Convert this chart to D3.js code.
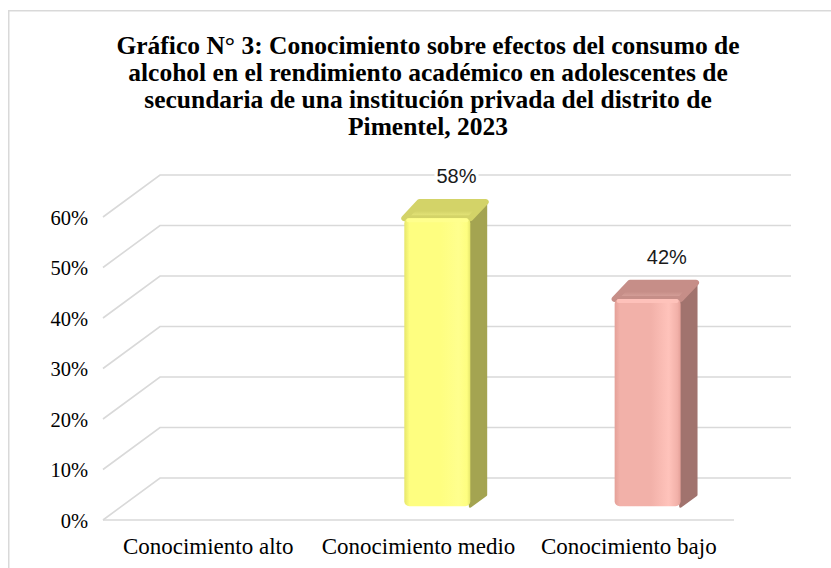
<!DOCTYPE html>
<html>
<head>
<meta charset="utf-8">
<script src="https://cdn.jsdelivr.net/npm/d3@7/dist/d3.min.js"></script>
<style>
  html, body { margin: 0; padding: 0; background: #fff; }
  svg { display: block; }
  svg text.serif-t { font-family: "Liberation Serif", "DejaVu Serif", serif !important; }
  svg text.sans-t { font-family: "Liberation Sans", "DejaVu Sans", sans-serif !important; }
</style>
</head>
<body>
<script>
// ---- data ----
const titleLines = [
  "Gráfico N° 3: Conocimiento sobre efectos del consumo de",
  "alcohol en el rendimiento académico en adolescentes de",
  "secundaria de una institución privada del distrito de",
  "Pimentel, 2023"
];
const categories = ["Conocimiento alto", "Conocimiento medio", "Conocimiento bajo"];
const values = [0, 0.58, 0.42];
const valueLabels = ["0%", "58%", "42%"];
const tickValues = [0, 0.1, 0.2, 0.3, 0.4, 0.5, 0.6];
const tickLabels = ["0%", "10%", "20%", "30%", "40%", "50%", "60%"];
const barColors = [
  { front: "#f5f57a", light: "#ffff8a", edge: "#e4e466", side: "#a5a552", top: "#d4d468", topLight: "#e6e67a" },
  { front: "#fefe80", light: "#ffff8e", edge: "#e6e66a", side: "#a4a451", top: "#d3d368", topLight: "#ecec80" },
  { front: "#f2b1a9", light: "#ffc3bb", edge: "#e4a098", side: "#a1736e", top: "#c68e88", topLight: "#dda8a1" }
];

const SERIF = '"Liberation Serif"';
const SANS = '"Liberation Sans"';

// ---- layout ----
const W = 831, H = 568;
const DX = 57, DY = 42;         // depth projection offset
const tFront = 0.33, tBack = 0.6;
const barW = 66;

const svg = d3.select("body").append("svg").attr("width", W).attr("height", H);
const defs = svg.append("defs");

// frame
svg.append("path")
  .attr("d", `M8.75,${H + 5} L8.75,10.75 L${W + 5},10.75`)
  .attr("fill", "none").attr("stroke", "#d9d9d9").attr("stroke-width", 1.5);

// title
const title = svg.append("g");
titleLines.forEach((t, i) => {
  title.append("text")
    .attr("class", "serif-t")
    .attr("x", 428).attr("y", 54 + i * 27)
    .attr("text-anchor", "middle")
    .style("font-family", SERIF)
    .style("font-weight", "bold")
    .style("font-size", "25.5px")
    .attr("fill", "#000")
    .text(t);
});

// scales (front plane)
const x = d3.scaleBand().domain(categories).range([103, 734]).padding(0);
const y = d3.scaleLinear().domain([0, 0.6]).range([520, 217]);
const P = (px, py, t) => [px + t * DX, py - t * DY];

// gridlines (3D wall + floor)
const grid = svg.append("g").attr("fill", "none").attr("stroke", "#d9d9d9").attr("stroke-width", 1.6);
tickValues.forEach(v => {
  const a = P(x.range()[0], y(v), 0), b = P(x.range()[0], y(v), 1), c = P(x.range()[1], y(v), 1);
  grid.append("path").attr("d", `M${a}L${b}L${c}`);
});
grid.append("path").attr("d", `M${x.range()[0]},${y(0)}L${x.range()[1]},${y(0)}`);

// y-axis labels
const yAxis = d3.axisLeft(y).tickValues(tickValues).tickFormat((d, i) => tickLabels[i]).tickSize(0).tickPadding(0);
const yg = svg.append("g").attr("transform", `translate(88,0)`).call(yAxis);
yg.attr("font-family", SERIF).attr("font-size", null);
yg.select(".domain").remove();
yg.selectAll("text")
  .attr("class", "serif-t")
  .style("font-family", SERIF)
  .style("font-size", "20.5px").attr("fill", "#000").attr("dy", "0.35em");

// x-axis labels
const xAxis = d3.axisBottom(x).tickSize(0).tickPadding(0);
const xg = svg.append("g").attr("transform", `translate(0,538)`).call(xAxis);
xg.attr("font-family", SERIF).attr("font-size", null);
xg.select(".domain").remove();
xg.selectAll("text")
  .attr("class", "serif-t")
  .style("font-family", SERIF)
  .style("font-size", "23px").attr("fill", "#000").attr("dy", "0.71em");

// bars
const bars = svg.append("g");
categories.forEach((cat, i) => {
  const v = values[i];
  if (v <= 0) return;
  const col = barColors[i];
  const cx = x(cat) + x.bandwidth() / 2;
  const x0 = cx - barW / 2, x1 = cx + barW / 2;
  const yb = y(0), yt = y(v);

  const gid = "g" + i;
  const g = defs.append("linearGradient").attr("id", gid).attr("x1", 0).attr("x2", 1).attr("y1", 0).attr("y2", 0);
  g.append("stop").attr("offset", 0).attr("stop-color", col.edge);
  g.append("stop").attr("offset", 0.08).attr("stop-color", col.front);
  g.append("stop").attr("offset", 0.55).attr("stop-color", col.front);
  g.append("stop").attr("offset", 0.82).attr("stop-color", col.light);
  g.append("stop").attr("offset", 0.95).attr("stop-color", col.front);
  g.append("stop").attr("offset", 1).attr("stop-color", col.edge);

  const tid = "t" + i;
  const tg = defs.append("linearGradient").attr("id", tid).attr("x1", 0).attr("x2", 0).attr("y1", 1).attr("y2", 0);
  tg.append("stop").attr("offset", 0).attr("stop-color", col.topLight);
  tg.append("stop").attr("offset", 0.45).attr("stop-color", col.top);
  tg.append("stop").attr("offset", 1).attr("stop-color", col.top);

  const bevel = 5;
  // side face
  const s1 = P(x1, yb, tFront), s2 = P(x1, yb, tBack), s3 = P(x1, yt, tBack), s4 = P(x1, yt + bevel, tFront);
  bars.append("path").attr("d", `M${s1}L${s2}L${s3}L${s4}Z`)
    .attr("fill", col.side).attr("stroke", col.side).attr("stroke-width", 3).attr("stroke-linejoin", "round");

  // top face (with rounded bevel towards the front)
  const t1 = P(x0, yt + bevel, tFront), t2 = P(x1, yt + bevel, tFront), t3 = P(x1, yt, tBack), t4 = P(x0, yt, tBack);
  bars.append("path").attr("d", `M${t1}L${t2}L${t3}L${t4}Z`)
    .attr("fill", `url(#${tid})`).attr("stroke", col.top).attr("stroke-width", 6).attr("stroke-linejoin", "round");

  // front face
  const f = P(x0, yt + bevel, tFront);
  bars.append("rect")
    .attr("x", f[0]).attr("y", f[1]).attr("width", barW).attr("height", yb - yt - bevel)
    .attr("rx", 5).attr("fill", `url(#${gid})`);
  // bevel highlight at top of front face
  bars.append("rect")
    .attr("x", f[0] + 2).attr("y", f[1]).attr("width", barW - 4).attr("height", 4)
    .attr("rx", 2).attr("fill", col.light).attr("opacity", 0.9);

  // value label with white backing (hides the gridline behind it)
  const lx = cx + 38, ly = yt - 44;
  bars.append("rect").attr("x", lx - 22).attr("y", ly - 13).attr("width", 44).attr("height", 12).attr("fill", "#fff");
  bars.append("text")
    .attr("class", "sans-t")
    .attr("x", lx).attr("y", ly)
    .attr("text-anchor", "middle")
    .style("font-family", SANS)
    .style("font-size", "20px").attr("fill", "#1a1a1a")
    .text(valueLabels[i]);
});
</script>
</body>
</html>
